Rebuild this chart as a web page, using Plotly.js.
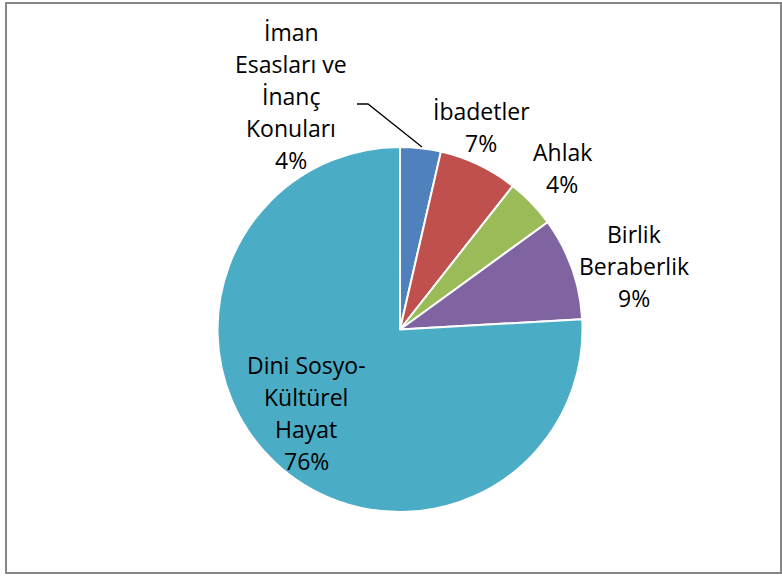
<!DOCTYPE html>
<html>
<head>
<meta charset="utf-8">
<script src="https://cdn.plot.ly/plotly-3.0.1.min.js"></script>
<style>html,body{margin:0;padding:0;background:#fff;}#chart{width:782px;height:576px;}</style>
</head>
<body>
<div id="chart"></div>
<script>
// Data
const labels = ["İman Esasları ve İnanç Konuları", "İbadetler", "Ahlak", "Birlik Beraberlik", "Dini Sosyo-Kültürel Hayat"];
const labelLines = [["İman", "Esasları ve", "İnanç", "Konuları"], ["İbadetler"], ["Ahlak"], ["Birlik", "Beraberlik"], ["Dini Sosyo-", "Kültürel", "Hayat"]];
const values = [3.6, 7.0, 4.4, 9.1, 75.9];
const colors = ["#4F81BD", "#C0504D", "#9BBB59", "#8064A2", "#4BACC6"];

// Layout (pixel positions for label blocks: center x, first baseline y)
const W = 782, H = 576;
const labelPos = [[291, 40], [481, 119], [562, 160], [634, 242], [306, 373]];
const lineStep = 32;
const fontSize = 23;
const font = {family: "Open Sans", size: fontSize, color: "#000"};

const total = values.reduce((a, b) => a + b, 0);
const annotations = [];
labels.forEach((lab, i) => {
  const lines = labelLines[i].concat([Math.round(values[i] / total * 100) + "%"]);
  lines.forEach((t, j) => {
    const yb = labelPos[i][1] + j * lineStep;
    annotations.push({
      xref: "paper", yref: "paper",
      x: labelPos[i][0] / W, y: 1 - (yb - 8) / H,
      xanchor: "center", yanchor: "middle",
      text: t, showarrow: false, font: font
    });
  });
});

const cx = 400, cy = 329.5, r = 182.5;
const trace = {
  type: "pie",
  labels: labels,
  values: values,
  sort: false,
  direction: "clockwise",
  rotation: 0,
  textinfo: "none",
  hoverinfo: "label+percent",
  marker: {colors: colors, line: {color: "#ffffff", width: 2}},
  domain: {x: [(cx - r) / W, (cx + r) / W], y: [(H - cy - r) / H, (H - cy + r) / H]},
  showlegend: false
};

const px = (x) => x / W, py = (y) => 1 - y / H;
const layout = {
  width: W, height: H,
  margin: {l: 0, r: 0, t: 0, b: 0},
  paper_bgcolor: "#ffffff",
  showlegend: false,
  annotations: annotations,
  shapes: [
    {type: "rect", xref: "paper", yref: "paper", x0: px(6), x1: px(781), y0: py(3), y1: py(573),
     line: {color: "#868686", width: 2}, fillcolor: "rgba(0,0,0,0)"},
    {type: "path", xref: "paper", yref: "paper",
     path: "M " + px(357) + "," + py(104) + " L " + px(368) + "," + py(104) + " L " + px(422) + "," + py(147),
     line: {color: "#000000", width: 1.3}}
  ]
};

Plotly.newPlot("chart", [trace], layout, {displayModeBar: false, staticPlot: true});
</script>
</body>
</html>
